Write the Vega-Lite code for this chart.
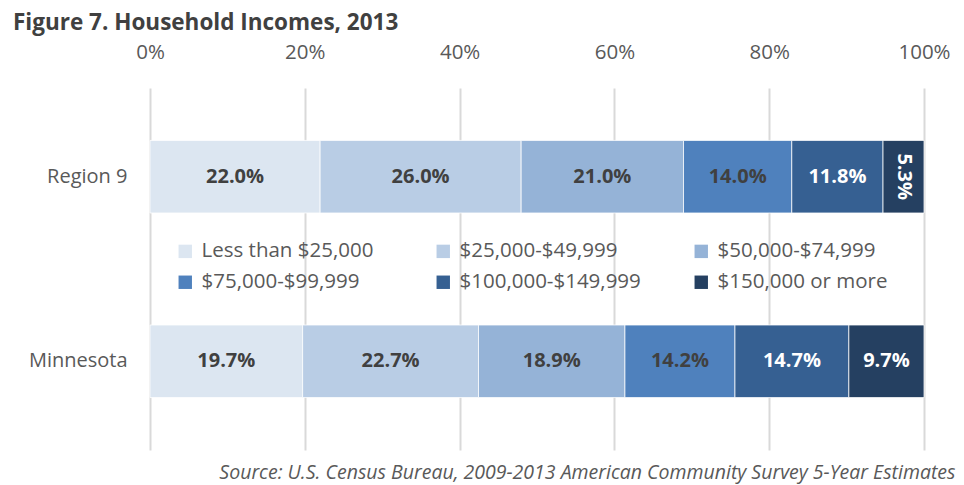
{
  "$schema": "https://vega.github.io/schema/vega-lite/v6.json",
  "width": 774,
  "height": 362,
  "autosize": "none",
  "padding": {"left": 150, "top": 88, "right": 40, "bottom": 35},
  "background": "white",
  "title": {
    "text": "Figure 7. Household Incomes, 2013",
    "anchor": "start",
    "frame": "group",
    "dx": -137,
    "offset": 8,
    "font": "Open Sans",
    "fontSize": 22.5,
    "fontWeight": "bold",
    "color": "#404040"
  },
  "config": {
    "view": {"stroke": null},
    "font": "Open Sans"
  },
  "data": {
    "values": [
      {"region": "Region 9", "bracket": "Less than $25,000", "order": 1, "value": 22.0},
      {"region": "Region 9", "bracket": "$25,000-$49,999", "order": 2, "value": 26.0},
      {"region": "Region 9", "bracket": "$50,000-$74,999", "order": 3, "value": 21.0},
      {"region": "Region 9", "bracket": "$75,000-$99,999", "order": 4, "value": 14.0},
      {"region": "Region 9", "bracket": "$100,000-$149,999", "order": 5, "value": 11.8},
      {"region": "Region 9", "bracket": "$150,000 or more", "order": 6, "value": 5.3},
      {"region": "Minnesota", "bracket": "Less than $25,000", "order": 1, "value": 19.7},
      {"region": "Minnesota", "bracket": "$25,000-$49,999", "order": 2, "value": 22.7},
      {"region": "Minnesota", "bracket": "$50,000-$74,999", "order": 3, "value": 18.9},
      {"region": "Minnesota", "bracket": "$75,000-$99,999", "order": 4, "value": 14.2},
      {"region": "Minnesota", "bracket": "$100,000-$149,999", "order": 5, "value": 14.7},
      {"region": "Minnesota", "bracket": "$150,000 or more", "order": 6, "value": 9.7}
    ]
  },
  "transform": [
    {"stack": "value", "groupby": ["region"], "sort": [{"field": "order", "order": "ascending"}], "offset": "normalize", "as": ["v0", "v1"]},
    {"calculate": "(datum.v0 + datum.v1) / 2", "as": "mid"},
    {"calculate": "format(datum.value, '.1f') + '%'", "as": "label"}
  ],
  "encoding": {
    "y": {
      "field": "region",
      "type": "nominal",
      "sort": ["Region 9", "Minnesota"],
      "scale": {"paddingInner": 0.607, "paddingOuter": 0.284},
      "axis": {
        "title": null,
        "domain": false,
        "ticks": false,
        "labelFontSize": 20,
        "labelColor": "#595959",
        "labelPadding": 23,
        "labelFont": "Open Sans"
      }
    }
  },
  "resolve": {"axis": {"x": "independent"}},
  "layer": [
    {
      "mark": {"type": "bar", "stroke": "white", "strokeWidth": 0.75},
      "encoding": {
        "x": {
          "field": "v0",
          "type": "quantitative",
          "scale": {"domain": [0, 1], "nice": false},
          "axis": {
            "orient": "top",
            "format": ".0%",
            "values": [0, 0.2, 0.4, 0.6, 0.8, 1.0],
            "title": null,
            "domain": false,
            "ticks": false,
            "grid": true,
            "gridColor": "#d9d9d9",
            "gridWidth": 2,
            "labelFlush": false,
            "labelFontSize": 20.5,
            "labelColor": "#595959",
            "labelPadding": 26,
            "labelFont": "Open Sans"
          }
        },
        "x2": {"field": "v1"},
        "color": {
          "field": "bracket",
          "type": "nominal",
          "scale": {
            "domain": ["Less than $25,000", "$25,000-$49,999", "$50,000-$74,999", "$75,000-$99,999", "$100,000-$149,999", "$150,000 or more"],
            "range": ["#dce6f1", "#b9cde5", "#95b3d7", "#4f81bd", "#366092", "#254061"]
          },
          "legend": {
            "title": null,
            "orient": "none",
            "direction": "horizontal",
            "legendX": 25,
            "legendY": 153,
            "columns": 3,
            "gridAlign": "all",
            "columnPadding": 50,
            "rowPadding": 10,
            "symbolType": "square",
            "symbolSize": 180,
            "symbolStrokeWidth": 0,
            "labelFontSize": 20.5,
            "labelColor": "#595959",
            "labelFont": "Open Sans",
            "labelOffset": 6,
            "labelLimit": 300
          }
        }
      }
    },
    {
      "mark": {"type": "text", "fontSize": 20, "fontWeight": "bold", "font": "Open Sans", "baseline": "middle", "align": "center"},
      "encoding": {
        "x": {
          "field": "mid",
          "type": "quantitative",
          "axis": {
            "orient": "bottom",
            "labels": false,
            "ticks": false,
            "domain": false,
            "grid": false,
            "title": "Source: U.S. Census Bureau, 2009-2013 American Community Survey 5-Year Estimates",
            "titleFont": "Open Sans",
            "titleFontStyle": "italic",
            "titleFontWeight": "normal",
            "titleFontSize": 19.5,
            "titleColor": "#595959",
            "titleAnchor": "end",
            "titleAlign": "right",
            "titleBaseline": "alphabetic",
            "titleX": 805,
            "titleY": 28
          }
        },
        "text": {"field": "label"},
        "angle": {"condition": {"test": "datum.v1 - datum.v0 < 0.06", "value": 90}, "value": 0},
        "color": {"condition": {"test": "datum.order >= 5", "value": "white"}, "value": "#404040"}
      }
    }
  ]
}
